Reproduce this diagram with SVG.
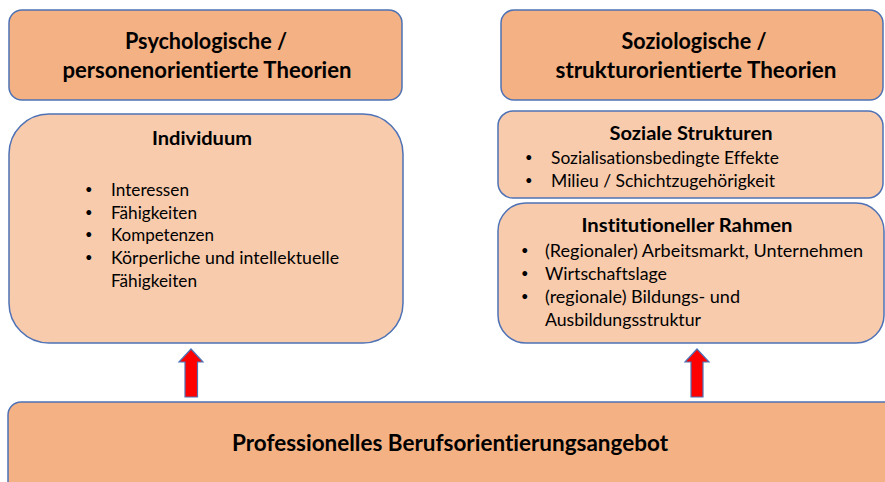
<svg xmlns="http://www.w3.org/2000/svg" width="885" height="482" viewBox="0 0 885 482">
<style>
.head{fill:#F4B183;stroke:#4E72B5;stroke-width:1.5}
.sub{fill:#F8CBAD;stroke:#4E72B5;stroke-width:1.5}
.arrow{fill:#FF0000;stroke:#4E72B5;stroke-width:1.2}
text{font-family:Lato,"Open Sans","Liberation Sans",sans-serif;fill:#000;font-variant-ligatures:none}
.t{font-size:23px;font-weight:bold;text-anchor:middle}
.s{font-size:18.5px;font-weight:bold;text-anchor:middle}
.b{font-size:17.5px}
.d{font-size:13px}
</style>
<rect width="885" height="482" fill="#fff"/>
<g id="psych-title">
<rect class="head" x="9" y="10" width="393" height="90" rx="13"/>
<text class="t" x="206" y="49" textLength="162" lengthAdjust="spacingAndGlyphs">Psychologische /</text>
<text class="t" x="207" y="78" textLength="289" lengthAdjust="spacingAndGlyphs">personenorientierte Theorien</text>
</g>
<g id="sozio-title">
<rect class="head" x="501" y="10" width="382" height="90" rx="13"/>
<text class="t" x="694" y="49" textLength="145" lengthAdjust="spacingAndGlyphs">Soziologische /</text>
<text class="t" x="696" y="78" textLength="281" lengthAdjust="spacingAndGlyphs">strukturorientierte Theorien</text>
</g>
<g id="individuum">
<rect class="sub" x="9" y="114" width="394" height="229" rx="40"/>
<text class="s" x="202" y="145" textLength="100" lengthAdjust="spacingAndGlyphs">Individuum</text>
<text class="d" x="85" y="194">•</text><text class="b" x="111" y="196" textLength="78" lengthAdjust="spacingAndGlyphs">Interessen</text>
<text class="d" x="85" y="217">•</text><text class="b" x="111" y="219" textLength="86" lengthAdjust="spacingAndGlyphs">Fähigkeiten</text>
<text class="d" x="85" y="239">•</text><text class="b" x="111" y="241" textLength="103" lengthAdjust="spacingAndGlyphs">Kompetenzen</text>
<text class="d" x="85" y="262">•</text><text class="b" x="111" y="264" textLength="228" lengthAdjust="spacingAndGlyphs">Körperliche und intellektuelle</text>
<text class="b" x="111" y="287" textLength="86" lengthAdjust="spacingAndGlyphs">Fähigkeiten</text>
</g>
<g id="soziale-strukturen">
<rect class="sub" x="498" y="111" width="385" height="87" rx="15"/>
<text class="s" x="691" y="140" textLength="163" lengthAdjust="spacingAndGlyphs">Soziale Strukturen</text>
<text class="d" x="525" y="162">•</text><text class="b" x="551" y="164" textLength="228" lengthAdjust="spacingAndGlyphs">Sozialisationsbedingte Effekte</text>
<text class="d" x="525" y="185">•</text><text class="b" x="551" y="187" textLength="224" lengthAdjust="spacingAndGlyphs">Milieu / Schichtzugehörigkeit</text>
</g>
<g id="institutioneller-rahmen">
<rect class="sub" x="498" y="203" width="386" height="140" rx="28"/>
<text class="s" x="687" y="232" textLength="211" lengthAdjust="spacingAndGlyphs">Institutioneller Rahmen</text>
<text class="d" x="521" y="255">•</text><text class="b" x="545" y="257" textLength="318" lengthAdjust="spacingAndGlyphs">(Regionaler) Arbeitsmarkt, Unternehmen</text>
<text class="d" x="521" y="278">•</text><text class="b" x="545" y="280" textLength="122" lengthAdjust="spacingAndGlyphs">Wirtschaftslage</text>
<text class="d" x="521" y="301">•</text><text class="b" x="545" y="303" textLength="195" lengthAdjust="spacingAndGlyphs">(regionale) Bildungs- und</text>
<text class="b" x="545" y="326" textLength="156" lengthAdjust="spacingAndGlyphs">Ausbildungsstruktur</text>
</g>
<g id="angebot">
<rect class="head" x="8" y="402" width="900" height="100" rx="13"/>
<text class="t" x="450" y="451" textLength="436" lengthAdjust="spacingAndGlyphs">Professionelles Berufsorientierungsangebot</text>
</g>
<g id="connectors">
<polygon class="arrow" points="191,349 203,362 197.5,362 197.5,397 185,397 185,362 179,362"/>
<polygon class="arrow" points="697,349 709,362 703,362 703,397 691,397 691,362 685,362"/>
</g>
</svg>
